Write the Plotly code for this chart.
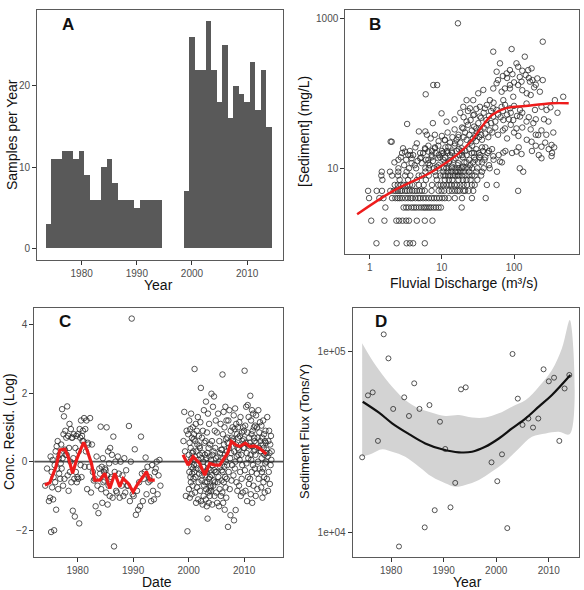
import plotly.graph_objects as go

W, H = 584, 590
FONT = "Liberation Sans, Arial, sans-serif"

# ---------------- Panel A: samples per year ----------------
a_years = list(range(1974, 1995)) + list(range(1999, 2015))
a_counts = [3, 11, 11, 12, 12, 11, 12, 9, 6, 6, 10, 11, 8, 6, 6, 6, 5, 6, 6, 6, 6,
            7, 26, 22, 22, 28, 22, 18, 25, 16, 20, 19, 18, 23, 17, 22, 15]

# ---------------- Panel B: concentration vs discharge ----------------
# discharges (m3/s) of samples sitting on the integer concentration rows (mg/L)
b_row_conc = [1, 2, 3, 4, 5, 6, 7, 8, 9, 10]
b_row_discharge = [
    [1.24, 2.36, 3.25, 3.6, 4.0, 5.8],
    [1.05, 1.6, 2.34, 2.55, 2.85, 3.2, 3.5, 4.5, 5.8, 7.4],
    [1.65, 2.95, 3.2, 3.45, 3.8, 4.1, 4.4, 4.8, 5.2, 5.6, 5.9, 6.3, 6.7, 7.1, 7.7, 8.3, 9.0, 9.7, 18.8],
    [0.98, 1.36, 1.55, 2.04, 2.27, 2.45, 2.6, 2.8, 3.1, 3.4, 3.7, 3.9, 4.3, 4.7, 5.0, 5.5, 6.0, 6.6,
     7.2, 7.8, 8.5, 9.2, 10.1, 11.0, 12.4, 15.1, 19.0, 26.1, 40.5],
    [0.95, 1.25, 1.48, 1.93, 2.15, 2.3, 2.47, 2.65, 2.8, 3.1, 3.3, 3.55, 3.9, 4.2, 4.5, 4.9, 5.3, 5.8,
     7.2, 9.0, 9.9, 10.8, 12.5, 13.8, 15.3, 16.5, 17.5, 19.8, 21.0, 23.5, 27.2, 114],
    [2.22, 2.45, 2.7, 2.95, 3.3, 3.6, 3.9, 4.8, 5.6, 7.3, 8.9, 9.6, 10.5, 11.6, 12.6, 13.6, 15.0, 16.2,
     18.0, 20.0, 22.3, 26.0, 28.5, 42.0, 57.3],
    [1.5, 2.6, 3.4, 4.5, 6.0, 8.5, 11.0, 12.5, 14.0, 17.0, 19.5, 22.0, 25.0, 31.0],
    [1.45, 2.04, 2.47, 3.1, 3.66, 4.77, 5.3, 6.6, 8.3, 9.5, 10.5, 11.2, 12.3, 13.1, 14.2, 15.3, 16.5,
     17.1, 19.0, 21.2, 23.5, 26.1, 28.5, 35.0],
    [1.47, 1.91, 2.49, 3.25, 5.9, 8.0, 10.5, 12.0, 13.5, 15.5, 16.5, 18.0, 20.0, 24.0, 30.0, 36.0, 58.0, 134],
    [2.5, 3.5, 4.4, 5.9, 6.6, 7.7, 9.0, 10.6, 11.5, 12.4, 13.8, 15.4, 17.1, 19.0, 21.2, 23.5, 26.2,
     31.0, 38.0, 46.0, 120.0],
]
# remaining samples as (discharge m3/s, concentration mg/L)
b_other = [
    (2.02, 22.6), (2.9, 18.5), (3.08, 16.7), (3.42, 15.1), (4.5, 21.5), (5.84, 18.5), (6.49, 16.7),
    (7.22, 15.1), (8.03, 18.5), (8.93, 20), (9.94, 15.8), (11, 23.6), (12.3, 19.4), (13.7, 16.7),
    (15.2, 21.5), (16.9, 26), (18.8, 18.5), (3.81, 11.7), (5.25, 11.7), (6.49, 11.7), (8.5, 10.5),
    (11, 11.7), (13.7, 10.5), (16.9, 11.7), (19.6, 10.5), (3.81, 13.6), (5, 13.6), (7.2, 14),
    (8.9, 13.6), (11, 14), (12.8, 12.6), (15.5, 13.6), (1.95, 22.7), (2.5, 13), (3.0, 11), (4.2, 11),
    (5.2, 14), (6.5, 13), (9.0, 11), (10.5, 13), (12.5, 12), (16.5, 11), (19.5, 14), (22, 12),
    (24.8, 11), (27, 12), (29, 13), (33, 14), (36, 12), (40, 14), (45, 11), (52, 13), (68, 12),
    (2.81, 16), (3.66, 15), (4.29, 19), (5.0, 16), (5.91, 18), (7.31, 17), (9.04, 15), (11.2, 19),
    (13.8, 16), (17.1, 18), (21.2, 17), (26.2, 20), (32.4, 16), (40.1, 19), (49.6, 18), (61.3, 15),
    (75.9, 17), (93.8, 16), (116, 19), (177, 17), (220, 15), (302, 18), (336, 16),
    (6.5, 20), (8.0, 19), (10, 17), (12, 16), (15, 20), (19, 15), (24, 18), (28, 16), (36, 19), (45, 17),
    (2.2, 12), (2.7, 14), (3.2, 13), (3.6, 17), (4.0, 15), (4.6, 12.5), (5.5, 16), (6.0, 13), (6.8, 11),
    (7.5, 12.5), (8.2, 16), (9.5, 14), (10.5, 16), (11.8, 17), (13, 15), (14.5, 13), (16, 17),
    (17.5, 15), (19, 17), (20.5, 12), (22, 15), (24, 13), (26, 16), (28, 14), (30, 18), (32, 12),
    (34, 15), (37, 17), (39, 13), (43, 16), (63.8, 12.3), (51.5, 14.5), (71, 16.2), (108, 16.7),
    (127, 15.5), (240, 13.6), (331, 14.5),
    (3.3, 39), (4.8, 31), (6.2, 28), (5.9, 31), (7, 25), (8, 28), (9, 23), (10, 27), (11, 24), (12, 30),
    (13, 22), (14, 26), (15, 33), (16, 24), (17, 28), (18, 22), (19, 35), (20, 26), (21, 30), (22, 24),
    (23, 38), (24, 28), (25, 22), (26, 32), (27, 25), (28, 36), (29, 27), (30, 23), (31, 30), (32, 40),
    (33, 26), (34, 33), (35, 28), (36, 24), (38, 35), (40, 29), (42, 38), (44, 26), (46, 32), (48, 40),
    (50, 30), (55, 35), (60, 28), (70, 32), (80, 25), (90, 38), (100, 30), (115, 27), (130, 35),
    (150, 24), (170, 33), (200, 28), (240, 32), (270, 22), (216, 27.8), (175, 22.6), (240, 19.4),
    (331, 20.5), (300, 42), (350, 30), (260, 45), (400, 55), (320, 65), (200, 20), (280, 28), (360, 19),
    (7.5, 40), (11.6, 41.8), (9.9, 54), (5.97, 97),
    (27.2, 81), (22, 81), (19.8, 66), (24.5, 63), (33.6, 66), (39.5, 63), (51.5, 63), (57.3, 60),
    (67.3, 66), (87.7, 63), (121, 60), (149, 73), (195, 60), (240, 66), (282, 60), (368, 81), (480, 90),
    (27.2, 51), (33.6, 49), (41.5, 44), (51.5, 49), (71, 44), (97.5, 44), (121, 49), (149, 42),
    (185, 40), (22, 42), (19.8, 34), (108, 34), (74.8, 34), (30, 34), (97.5, 90), (71, 81),
    (46.3, 81), (37.5, 111), (31.9, 100),
    (15, 45), (18, 55), (20, 48), (23, 58), (25, 44), (28, 52), (30, 62), (35, 47), (38, 55), (42, 70),
    (45, 50), (48, 58), (52, 75), (55, 42), (60, 52), (65, 48), (70, 58), (75, 70), (80, 52), (85, 45),
    (90, 55), (100, 68), (110, 50), (130, 55), (160, 48), (200, 45),
    (7.6, 129), (8.6, 129), (16.7, 858),
    (78.9, 184), (87.7, 204), (108, 251), (114, 226), (141, 308), (175, 215), (157, 204), (210, 158),
    (166, 143), (127, 143), (114, 129), (87.7, 129), (74.8, 116), (57.3, 136), (51.5, 116), (67.3, 105),
    (87.7, 116), (228, 105), (51.5, 359), (92.6, 389), (63.8, 251), (57.4, 194), (250, 488),
    (60, 150), (70, 170), (80, 160), (95, 180), (100, 140), (120, 165), (130, 200), (145, 175),
    (160, 160), (180, 150), (200, 130), (250, 150), (130, 110), (150, 100), (170, 95), (190, 120),
]
# loess fit (red)
b_fit_q = [0.67, 2.04, 7.3, 17.1, 26.2, 36, 49.5, 75.9, 143.6, 336, 572]
b_fit_c = [2.44, 4.89, 9.0, 15.8, 23.9, 36, 51.4, 63, 67.7, 73.6, 73.6]

# ---------------- Panel C: concentration residuals by year ----------------
c_years = list(range(1974, 1995)) + list(range(1999, 2015))
c_resid = [
    [-0.7, -0.2, -1.15],
    [-1.05, 0.15, -2.05, -0.3, -0.75, 0.05, -1.1, -0.45, -2.0, -0.1, -0.6],
    [0.3, -1.4, 0.45, -0.2, 0.6, -0.8, 0.1, -0.35, 0.2, -0.5, -0.05],
    [0.5, -0.2, 1.53, 0.1, -0.7, 0.8, 1.32, -0.5, 0.35, 0.9, 0.2, 0.7],
    [0.2, 1.61, -0.4, 0.75, -0.85, 0.4, 1.1, -0.3, 0.0, 0.95, -0.6, 0.7],
    [0.7, -1.43, 0.1, 0.8, -0.5, -1.6, 0.4, -0.3, 0.75, -0.6, -0.45],
    [0.8, -0.5, 0.3, -1.8, 0.95, 0.7, -0.1, 1.2, -0.45, 0.75, 0.6, 0.9],
    [0.6, 1.27, -0.15, 0.95, 0.3, 1.2, -0.8, 0.55, 0.5],
    [-0.15, 1.27, -0.9, 0.5, -0.3, -0.55],
    [-0.5, -1.3, 0.15, -0.7, -1.5, -0.2],
    [-0.35, 1.02, -0.8, -0.15, -1.2, 0.1, -0.6, -0.3, -0.55, -0.2],
    [-0.25, -0.9, 1.0, -0.4, -1.25, 0.3, -0.7, -0.05, -1.0, 0.4, -0.5],
    [-0.45, 0.2, -1.05, 0.73, -2.47, -0.3, 0.0, -0.85],
    [-0.9, 0.15, -0.35, -1.05, 0.0, -0.7],
    [-0.4, -1.0, 0.1, -0.9, -0.25, -0.7],
    [-0.7, 1.04, -1.15, 0.0, 4.17, -0.95],
    [-1.0, 0.36, -1.55, -0.85, -1.4],
    [-0.6, -1.3, 0.73, -0.35, -1.15, -0.5],
    [-0.3, 0.12, -0.95, -0.15, -0.6, -0.45],
    [-0.55, -1.15, -0.1, -0.85, -1.1, -0.3],
    [-0.2, 0.0, -0.95, -0.4, 0.05, -0.7],
    [0.6, 1.45, 0.3, -1.0, 0.9, -2.03, 0.8],
    [0.2, -0.8, 1.2, -0.3, 0.55, -1.05, 0.0, 0.95, -0.45, 0.4, -0.6, 1.4, -0.15, 0.1, -0.95, 0.7,
     -0.35, 0.25, -0.7, 1.0, -0.2, 0.3, -0.5, 0.65, -0.1, 0.8],
    [-0.3, 2.7, 0.15, -0.9, 0.6, -0.45, 1.1, -1.2, 0.3, -0.1, 0.9, -0.75, 0.5, -0.2, 1.3, -1.1, 0.05,
     -0.6, 0.75, -0.35, 0.45, 0.2],
    [0.4, -0.85, 1.15, -0.25, 2.15, -1.15, 0.1, -0.55, 0.7, -0.4, 0.25, -1.25, 0.9, -0.15, 0.0, -1.0,
     1.5, -0.7, 0.55, -0.3, 0.2, -0.6],
    [-0.4, 0.6, -1.1, 1.75, -0.8, 0.1, -0.3, -1.3, 0.85, -0.6, 0.25, -1.66, -0.05, 1.4, -0.9, -0.2,
     0.4, -1.2, -0.5, 1.1, -0.85, 0.15, -1.0, -0.45, 0.5, -0.7, -0.25, -0.75],
    [0.05, -0.85, 1.98, -0.4, 0.6, -1.25, 0.2, -0.1, 1.6, -0.7, 0.3, -0.55, 1.9, -0.25, -1.0, 0.9,
     -0.6, 0.4, -0.3, 1.2, 0.1, -0.9],
    [-0.3, 0.85, -1.2, 0.15, -0.6, 1.4, -0.45, 0.0, -1.3, 0.6, -0.8, 0.25, -0.15, 1.1, -1.0, 0.35,
     -0.55, -0.25],
    [0.35, -0.9, 2.54, -0.3, 0.8, -1.2, 0.1, 1.45, -0.6, 0.5, -0.15, 1.0, -1.4, 0.2, -0.45, 1.6, -0.75,
     0.0, 0.65, -1.05, 1.2, -0.5, 0.3, -0.1, 0.7],
    [0.55, -1.9, 1.2, -0.3, 0.4, 1.5, -0.8, 0.1, -1.56, 0.9, 0.25, -0.55, 0.7, -0.1, 1.0, 0.6],
    [0.65, -0.4, 1.35, -1.71, 0.3, 0.95, -0.2, 1.55, 0.0, -1.41, 0.5, 1.1, -0.6, 0.15, 0.8, -0.85, 0.4,
     1.0, 0.7, 0.2],
    [0.35, -0.7, 1.15, 0.05, 0.75, -0.3, 1.3, -1.0, 0.5, 0.2, -0.5, 0.85, -0.1, 0.6, -0.9, 1.0, 0.4,
     0.65, 0.9],
    [0.4, 2.65, -0.25, 1.05, -0.85, 0.55, 1.6, -0.05, 0.25, -1.15, 0.85, 1.65, -0.45, 0.1, 1.3, -0.65,
     0.7, 0.45],
    [0.55, -0.5, 1.92, 0.2, -0.95, 1.2, 0.05, 0.8, -0.3, 1.5, -1.2, 0.45, 0.9, -0.1, 1.4, -0.7, 0.3,
     1.0, 0.7, 0.6, 0.35, -0.2, 1.05],
    [0.2, -1.0, 1.35, 0.55, -0.35, 1.0, -0.8, 0.7, 0.0, 1.5, -0.5, 0.4, 0.85, -0.2, 1.15, 0.6, 0.3],
    [0.3, -0.75, 1.05, 0.1, -0.3, 0.7, -1.05, 0.5, -0.2, 1.2, -0.6, 0.4, 0.8, -0.45, 0.2, -0.9, 0.6,
     -0.05, 0.9, 0.55, 0.25, 0.0],
    [0.35, -0.5, 1.3, 0.15, -0.85, 0.6, -0.3, 0.9, 0.25, -0.65, 0.5, -0.1, 0.75, 0.05, 0.3],
]
# running trend (red)
c_trend_date = [1974.1, 1975.0, 1976.1, 1976.8, 1977.7, 1978.3, 1979.1, 1979.8, 1980.5, 1981.1,
                1981.7, 1982.5, 1983.1, 1984.0, 1984.9, 1985.8, 1986.7, 1987.6, 1988.2, 1989.1,
                1990.0, 1990.9, 1991.8, 1992.4, 1993.0, 1993.9, None,
                1999.0, 1999.9, 2000.8, 2002.0, 2002.9, 2003.8, 2004.7, 2005.6, 2006.2, 2007.0,
                2007.7, 2008.5, 2009.2, 2010.2, 2011.0, 2011.9, 2012.8, 2014.0]
c_trend_val = [-0.68, -0.61, -0.15, 0.34, 0.36, 0.15, -0.34, 0.05, 0.34, 0.56,
               0.34, -0.05, -0.54, -0.54, -0.34, -0.78, -0.34, -0.73, -0.49, -0.63,
               -0.88, -0.63, -0.44, -0.29, -0.54, -0.54, None,
               0.20, -0.10, 0.15, -0.05, -0.39, -0.05, -0.10, -0.10, 0.05, 0.24,
               0.59, 0.49, 0.44, 0.54, 0.44, 0.46, 0.39, 0.22]

# ---------------- Panel D: annual sediment flux ----------------
d_year = [1974.5, 1975.6, 1976.5, 1977.5, 1978.6, 1979.5, 1980.4, 1981.5, 1982.5, 1983.4, 1984.4,
          1985.4, 1986.4, 1987.3, 1988.3, 1989.3, 1990.3, 1991.3, 1992.2, 1993.3, 1994.2,
          1999.1, 2000.2, 2001.1, 2002.1, 2003.1, 2004.1, 2005.0, 2006.1, 2007.0, 2008.0, 2009.0,
          2010.0, 2011.0, 2012.0, 2013.0, 2013.9]
d_flux = [26000, 57000, 59200, 32000, 123500, 91100, 48000, 8400, 55600, 43900, 66400,
          48000, 10700, 50400, 13300, 40800, 28900, 13800, 18800, 61500, 63100,
          24400, 19200, 27000, 10600, 96300, 54700, 39200, 42500, 37900, 42500, 79300,
          68100, 71300, 32000, 62200, 73800]
d_fit_year = [1974.6, 1977.7, 1980.2, 1983.4, 1986.5, 1989.7, 1992.9, 1995.4, 1997.9, 2000.5,
              2003.0, 2005.6, 2008.1, 2010.6, 2014.1]
d_fit = [52600, 45800, 40000, 34900, 31000, 28800, 27700, 27900, 29700, 33000,
         37500, 42600, 49400, 57300, 73800]
d_band_year = [1974.5, 1975.8, 1977.7, 1980.2, 1982.7, 1985.3, 1987.8, 1990.3, 1992.9, 1995.4,
               1997.9, 2000.5, 2003.0, 2005.6, 2008.1, 2010.6, 2012.5, 2014.0]
d_band_hi = [110300, 95100, 78500, 63600, 53700, 48300, 45800, 43900, 44400, 43000,
             43000, 45400, 49400, 53700, 63600, 78500, 103400, 148100]
d_band_year_lo = [1974.5, 1976.4, 1978.3, 1980.2, 1982.7, 1985.3, 1987.8, 1990.3, 1992.2, 1994.1,
                  1996.7, 1999.2, 2001.7, 2004.3, 2006.8, 2009.4, 2011.9, 2014.0]
d_band_lo = [26200, 27300, 28800, 27900, 26200, 23100, 20300, 18700, 17900, 18300,
             19500, 21700, 24600, 29100, 33700, 35200, 35900, 34900]

# ---------------- build figure ----------------
def px_x(p):
    return p / W

def px_y(p):
    return 1 - p / H

b_q, b_c = [], []
for c, qs in zip(b_row_conc, b_row_discharge):
    for q in qs:
        b_q.append(q)
        b_c.append(c)
for q, c in b_other:
    b_q.append(q)
    b_c.append(c)

c_date, c_val = [], []
for y, vals in zip(c_years, c_resid):
    n = len(vals)
    for i, v in enumerate(vals):
        c_date.append(y + (i + 0.5) / n)
        c_val.append(v)

open_marker = dict(symbol="circle-open", size=5.5, color="#2a2a2a", line=dict(width=0.8))

fig = go.Figure()
fig.add_trace(go.Bar(x=a_years, y=a_counts, width=1, marker=dict(color="#595959", line=dict(width=0)),
                     xaxis="x", yaxis="y", showlegend=False))
fig.add_trace(go.Scatter(x=b_q, y=b_c, mode="markers", marker=open_marker,
                         xaxis="x2", yaxis="y2", showlegend=False))
fig.add_trace(go.Scatter(x=b_fit_q, y=b_fit_c, mode="lines", line=dict(color="#ee1c1c", width=2.4, shape="spline"),
                         xaxis="x2", yaxis="y2", showlegend=False))
fig.add_trace(go.Scatter(x=c_date, y=c_val, mode="markers", marker=open_marker,
                         xaxis="x3", yaxis="y3", showlegend=False))
fig.add_trace(go.Scatter(x=c_trend_date, y=c_trend_val, mode="lines", connectgaps=False,
                         line=dict(color="#ee1c1c", width=3.2),
                         xaxis="x3", yaxis="y3", showlegend=False))
# band in D
fig.add_trace(go.Scatter(x=d_band_year + d_band_year_lo[::-1], y=d_band_hi + d_band_lo[::-1],
                         mode="lines", fill="toself", fillcolor="#d3d3d3", line=dict(width=0, shape="spline"),
                         xaxis="x4", yaxis="y4", showlegend=False, hoverinfo="skip"))
fig.add_trace(go.Scatter(x=d_year, y=d_flux, mode="markers",
                         marker=dict(symbol="circle-open", size=5, color="#2a2a2a", line=dict(width=0.8)),
                         xaxis="x4", yaxis="y4", showlegend=False))
fig.add_trace(go.Scatter(x=d_fit_year, y=d_fit, mode="lines", line=dict(color="#111111", width=2.2, shape="spline"),
                         xaxis="x4", yaxis="y4", showlegend=False))

axis_common = dict(showgrid=False, zeroline=False, showline=True, mirror=True,
                   linecolor="#5a5a5a", linewidth=1, ticks="outside", ticklen=4,
                   tickcolor="#333333", tickwidth=1,
                   tickfont=dict(family=FONT, size=10, color="#4d4d4d"))

fig.update_layout(
    width=W, height=H, margin=dict(l=0, r=0, t=0, b=0),
    paper_bgcolor="white", plot_bgcolor="white", bargap=0,
    xaxis=dict(domain=[px_x(37), px_x(283)], range=[1971.9, 2016.5], anchor="y",
               tickvals=[1980, 1990, 2000, 2010], **axis_common),
    yaxis=dict(domain=[px_y(260), px_y(10)], range=[-1.44, 29.35], anchor="x",
               tickvals=[0, 10, 20], **axis_common),
    xaxis2=dict(domain=[px_x(345.3), px_x(579)], type="log", range=[-0.338, 2.9], anchor="y2",
                tickvals=[1, 10, 100], ticktext=["1", "10", "100"], **axis_common),
    yaxis2=dict(domain=[px_y(254), px_y(10)], type="log", range=[-0.143, 3.111], anchor="x2",
                tickvals=[10, 1000], ticktext=["10", "1000"], **axis_common),
    xaxis3=dict(domain=[px_x(34.3), px_x(283)], range=[1972.2, 2017.0], anchor="y3",
                tickvals=[1980, 1990, 2000, 2010], **axis_common),
    yaxis3=dict(domain=[px_y(556.7), px_y(308.3)], range=[-2.77, 4.47], anchor="x3",
                tickvals=[-2, 0, 2, 4], **axis_common),
    xaxis4=dict(domain=[px_x(352.7), px_x(579.3)], range=[1972.7, 2015.8], anchor="y4",
                tickvals=[1980, 1990, 2000, 2010], **axis_common),
    yaxis4=dict(domain=[px_y(556.7), px_y(308.3)], type="log", range=[3.868, 5.235], anchor="x4",
                tickvals=[1e4, 1e5], ticktext=["1e+04", "1e+05"], **axis_common),
)

# zero line in C
fig.add_shape(type="line", xref="x3 domain", yref="y3", x0=0, x1=1, y0=0, y1=0,
              line=dict(color="#555555", width=1.6), layer="below")

def ann(text, x, y, size=14, angle=0, bold=False):
    fig.add_annotation(text=text, x=px_x(x), y=px_y(y), xref="paper", yref="paper",
                       xanchor="center", yanchor="middle", showarrow=False, textangle=angle,
                       font=dict(family=FONT, size=size, color="#111111",
                                 weight="bold" if bold else "normal"))

# panel letters
ann("A", 68, 24, size=17, bold=True)
ann("B", 375, 24, size=17, bold=True)
ann("C", 65, 322, size=17, bold=True)
ann("D", 381, 322, size=17, bold=True)
# axis titles
ann("Samples per Year", 12, 135, angle=-90)
ann("Year", 158, 285)
ann("[Sediment] (mg/L)", 304, 132, angle=-90)
ann("Fluvial Discharge (m\u00b3/s)", 464, 283)
ann("Conc. Resid. (Log)", 9, 432, angle=-90)
ann("Date", 157, 582)
ann("Sediment Flux (Tons/Y)", 304, 432, size=13, angle=-90)
ann("Year", 467, 582)

fig.write_html("out.html")
